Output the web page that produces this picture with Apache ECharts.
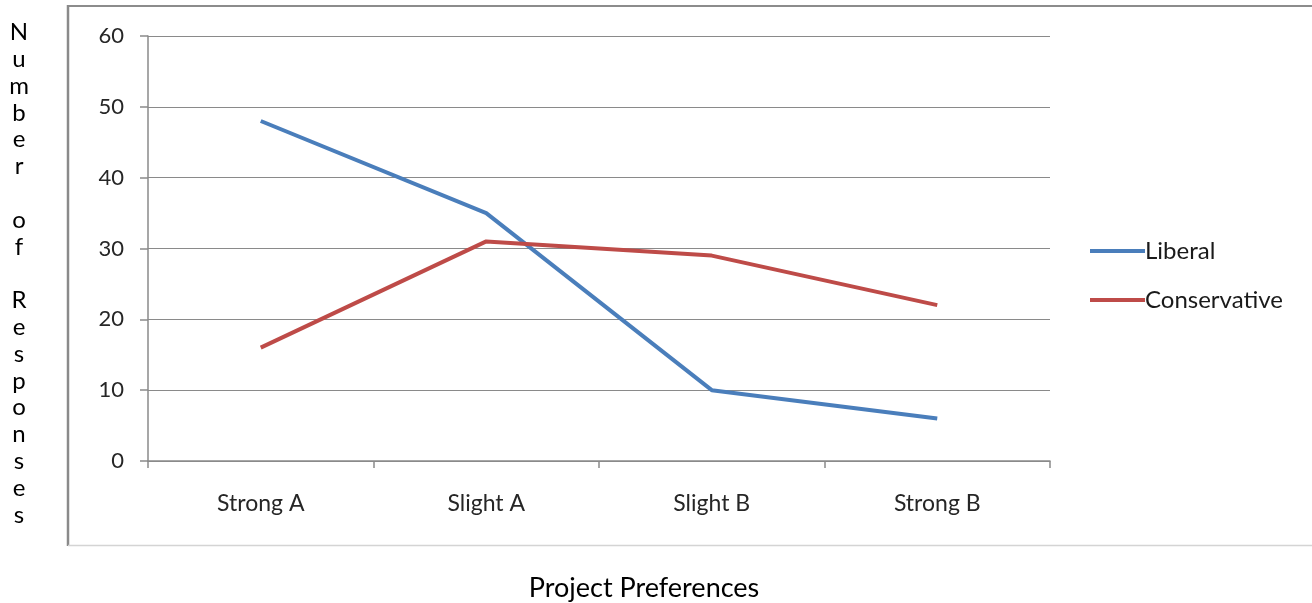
<!DOCTYPE html>
<html>
<head>
<meta charset="utf-8">
<script src="https://cdn.jsdelivr.net/npm/echarts@6/dist/echarts.min.js"></script>
<style>
  html, body { margin: 0; padding: 0; background: #fff; }
  #chart { width: 1312px; height: 603px; }
</style>
</head>
<body>
<div id="chart"></div>
<script>
const categories = ['Strong A', 'Slight A', 'Slight B', 'Strong B'];
const liberal = [48, 35, 10, 6];
const conservative = [16, 31, 29, 22];
const seriesNames = ['Liberal', 'Conservative'];
const yTicks = { min: 0, max: 60, interval: 10 };
const xTitle = 'Project Preferences';
const yTitle = 'Number of Responses';

const FONT = 'Lato, "Open Sans", sans-serif';
const GRID_COLOR = '#8a8a8a';

const chart = echarts.init(document.getElementById('chart'), null, { renderer: 'canvas' });

const yTitleVertical = yTitle.split('').map(c => c === ' ' ? '' : c).join('\n');

const option = {
  backgroundColor: '#ffffff',
  animation: false,
  color: ['#4A7EBB', '#BE4B48'],
  grid: { left: 148, right: 262, top: 36, bottom: 142, containLabel: false },
  legend: {
    orient: 'vertical',
    left: 1090,
    top: 239,
    padding: 0,
    itemWidth: 55,
    itemHeight: 4,
    itemGap: 25,
    icon: 'rect',
    data: seriesNames,
    textStyle: { fontFamily: FONT, fontSize: 24, color: '#1a1a1a', lineHeight: 24, padding: [0, 0, 0, -5] }
  },
  xAxis: {
    type: 'category',
    data: categories,
    boundaryGap: true,
    axisLine: { show: true, lineStyle: { color: GRID_COLOR, width: 1.5 } },
    axisTick: { show: true, length: 7, interval: 0, lineStyle: { color: GRID_COLOR, width: 1.5 } },
    axisLabel: { margin: 31, fontFamily: FONT, fontSize: 23, color: '#262626' },
    splitLine: { show: false }
  },
  yAxis: {
    type: 'value',
    min: yTicks.min,
    max: yTicks.max,
    interval: yTicks.interval,
    axisLine: { show: true, lineStyle: { color: GRID_COLOR, width: 1.5 } },
    axisTick: { show: true, length: 8, lineStyle: { color: GRID_COLOR, width: 1.5 } },
    axisLabel: { margin: 24, fontFamily: FONT, fontSize: 22, color: '#262626' },
    splitLine: { show: true, lineStyle: { color: GRID_COLOR, width: 1 } }
  },
  series: [
    {
      name: seriesNames[0], type: 'line', data: liberal,
      symbol: 'none', lineStyle: { width: 4, color: '#4A7EBB' },
      itemStyle: { color: '#4A7EBB' }
    },
    {
      name: seriesNames[1], type: 'line', data: conservative,
      symbol: 'none', lineStyle: { width: 4, color: '#BE4B48' },
      itemStyle: { color: '#BE4B48' }
    }
  ],
  graphic: [
    { type: 'line', z: -1, shape: { x1: 68, y1: 6, x2: 1312, y2: 6 }, style: { stroke: '#8c8c8c', lineWidth: 2 } },
    { type: 'line', z: -1, shape: { x1: 68, y1: 5, x2: 68, y2: 546 }, style: { stroke: '#8a8a8a', lineWidth: 2.5 } },
    { type: 'line', z: -1, shape: { x1: 68, y1: 545.5, x2: 1312, y2: 545.5 }, style: { stroke: '#d4d4d4', lineWidth: 1.5 } },
    {
      type: 'text', x: 644, y: 588,
      style: { text: xTitle, fontFamily: FONT, fontSize: 27, fill: '#000', align: 'center', verticalAlign: 'middle' }
    },
    {
      type: 'text',
      x: 19, y: 19,
      style: {
        text: yTitleVertical, fontFamily: FONT, fontSize: 24, fill: '#000',
        align: 'center', verticalAlign: 'top', lineHeight: 26.8
      }
    }
  ]
};

chart.setOption(option);
</script>
</body>
</html>
